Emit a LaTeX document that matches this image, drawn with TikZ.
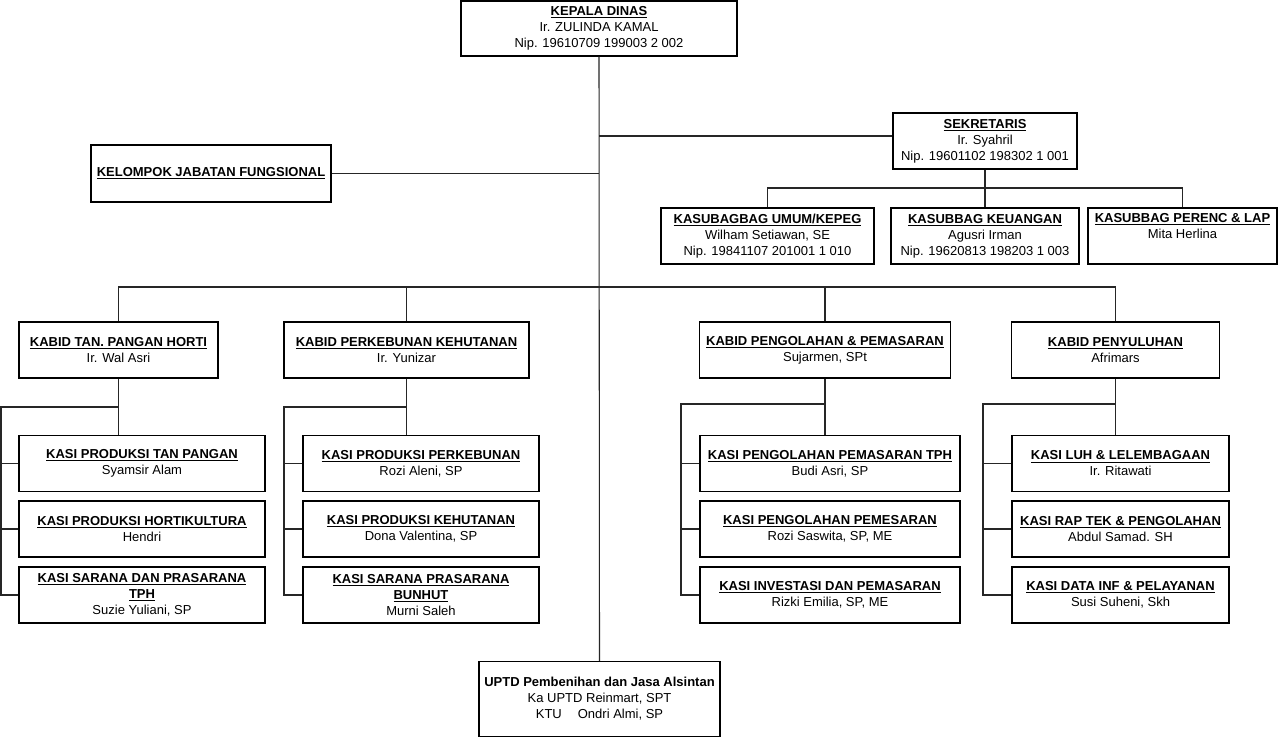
\documentclass[tikz,border=0pt]{standalone}
\usepackage{fontspec}
\setmainfont{Liberation Sans}
\usetikzlibrary{positioning, calc}

\newcommand\ttl[1]{\textbf{\underline{#1}}}

\begin{document}
\begin{tikzpicture}[x=0.75pt, y=-0.75pt,
  font=\fontsize{9.75}{12}\selectfont,
  box/.style={draw=black, line width=0.8pt, align=center, inner sep=0pt,
              minimum height=42pt},
  kasi/.style={box, minimum height=42pt},
  link/.style={draw=black!85, line width=0.8pt}
]
\fill[white] (0,0) rectangle (1278,737);
\useasboundingbox (0,0) rectangle (1278,737);

% top
\node[box, minimum width=207pt, minimum height=41.25pt] (kepala) at (599,28.5)
  {\ttl{KEPALA DINAS}\\Ir. ZULINDA KAMAL\\Nip. 19610709 199003 2 002};
\node[box, minimum width=138pt] (sek) at (985,141)
  {\ttl{SEKRETARIS}\\Ir. Syahril\\Nip. 19601102 198302 1 001};
\node[box, minimum width=180pt, minimum height=42.75pt] (kel) at (211,173.5)
  {\ttl{KELOMPOK JABATAN FUNGSIONAL}};

% sub bagian
\node[box, minimum width=159.75pt] (umum) at (767.5,236)
  {\ttl{KASUBAGBAG UMUM/KEPEG}\\Wilham Setiawan, SE\\Nip. 19841107 201001 1 010};
\node[box, minimum width=141pt] (keu) at (985,236)
  {\ttl{KASUBBAG KEUANGAN}\\Agusri Irman\\Nip. 19620813 198203 1 003};
\node[box, minimum width=141.75pt] (perenc) at (1182.5,236)
  {\ttl{KASUBBAG PERENC \& LAP}\\Mita Herlina\\\strut};

% kabid
\node[box, minimum width=149.25pt] (kt) at (118.5,350)
  {\ttl{KABID TAN. PANGAN HORTI}\\Ir. Wal Asri};
\node[box, minimum width=183.75pt] (kp) at (406.5,350)
  {\ttl{KABID PERKEBUNAN KEHUTANAN}\\Ir. Yunizar};
\node[box, minimum width=188.25pt] (kpp) at (825,350)
  {\ttl{KABID PENGOLAHAN \& PEMASARAN}\\Sujarmen, SPt};
\node[box, minimum width=156pt] (kpy) at (1115.5,350)
  {\ttl{KABID PENYULUHAN}\\Afrimars};

% kasi
\node[kasi, minimum width=184.5pt] (ka1) at (142,463.5)
  {\ttl{KASI PRODUKSI TAN PANGAN}\\Syamsir Alam};
\node[kasi, minimum width=184.5pt] (ka2) at (142,529)
  {\ttl{KASI PRODUKSI HORTIKULTURA}\\Hendri};
\node[kasi, minimum width=184.5pt] (ka3) at (142,595)
  {\ttl{KASI SARANA DAN PRASARANA}\\\ttl{TPH}\\Suzie Yuliani, SP};

\node[kasi, minimum width=177pt] (kb1) at (421,463.5)
  {\ttl{KASI PRODUKSI PERKEBUNAN}\\Rozi Aleni, SP};
\node[kasi, minimum width=177pt] (kb2) at (421,529)
  {\ttl{KASI PRODUKSI KEHUTANAN}\\Dona Valentina, SP};
\node[kasi, minimum width=177pt] (kb3) at (421,595)
  {\ttl{KASI SARANA PRASARANA}\\\ttl{BUNHUT}\\Murni Saleh};

\node[kasi, minimum width=195pt] (kc1) at (830,463.5)
  {\ttl{KASI PENGOLAHAN PEMASARAN TPH}\\Budi Asri, SP};
\node[kasi, minimum width=195pt] (kc2) at (830,529)
  {\ttl{KASI PENGOLAHAN PEMESARAN}\\Rozi Saswita, SP, ME};
\node[kasi, minimum width=195pt] (kc3) at (830,595)
  {\ttl{KASI INVESTASI DAN PEMASARAN}\\Rizki Emilia, SP, ME};

\node[kasi, minimum width=162.75pt] (kd1) at (1120.5,463.5)
  {\ttl{KASI LUH \& LELEMBAGAAN}\\Ir. Ritawati};
\node[kasi, minimum width=162.75pt] (kd2) at (1120.5,529)
  {\ttl{KASI RAP TEK \& PENGOLAHAN}\\Abdul Samad. SH};
\node[kasi, minimum width=162.75pt] (kd3) at (1120.5,595)
  {\ttl{KASI DATA INF \& PELAYANAN}\\Susi Suheni, Skh};

% uptd
\node[box, minimum width=180.75pt, minimum height=56.25pt] (uptd) at (599.5,699)
  {\textbf{UPTD Pembenihan dan Jasa Alsintan}\\Ka UPTD Reinmart, SPT\\KTU\hspace{12pt}Ondri Almi, SP};

% connectors
\coordinate (jsek) at (599,136);
\coordinate (hsek) at (985,188);
\coordinate (hk) at (599,287);
\draw[link] (kepala.south) -- (uptd.north);
\draw[link] (jsek) -- (jsek -| sek.west);
\draw[link] (kel.east) -- (kel.east -| kepala.south);
\draw[link] (sek.south) -- (keu.north);
\draw[link] (umum.north) |- (hsek) -| (perenc.north);
\draw[link] (kt.north) |- (hk) -| (kpy.north);
\draw[link] (kp.north) -- (kp.north |- hk);
\draw[link] (kpp.north) -- (kpp.north |- hk);

\foreach \k/\c/\bx/\by in {kt/ka/1/407, kp/kb/284/407, kpp/kc/681/404, kpy/kd/983/404}{
  \coordinate (\c0) at (\bx,\by);
  \draw[link] (\k.south) -- (\k.south |- \c1.north);
  \draw[link] (\k.south |- \c0) -- (\c0) |- (\c3.west);
  \draw[link] (\c1.west) -- (\c1.west -| \c0);
  \draw[link] (\c2.west) -- (\c2.west -| \c0);
}
\end{tikzpicture}
\end{document}
